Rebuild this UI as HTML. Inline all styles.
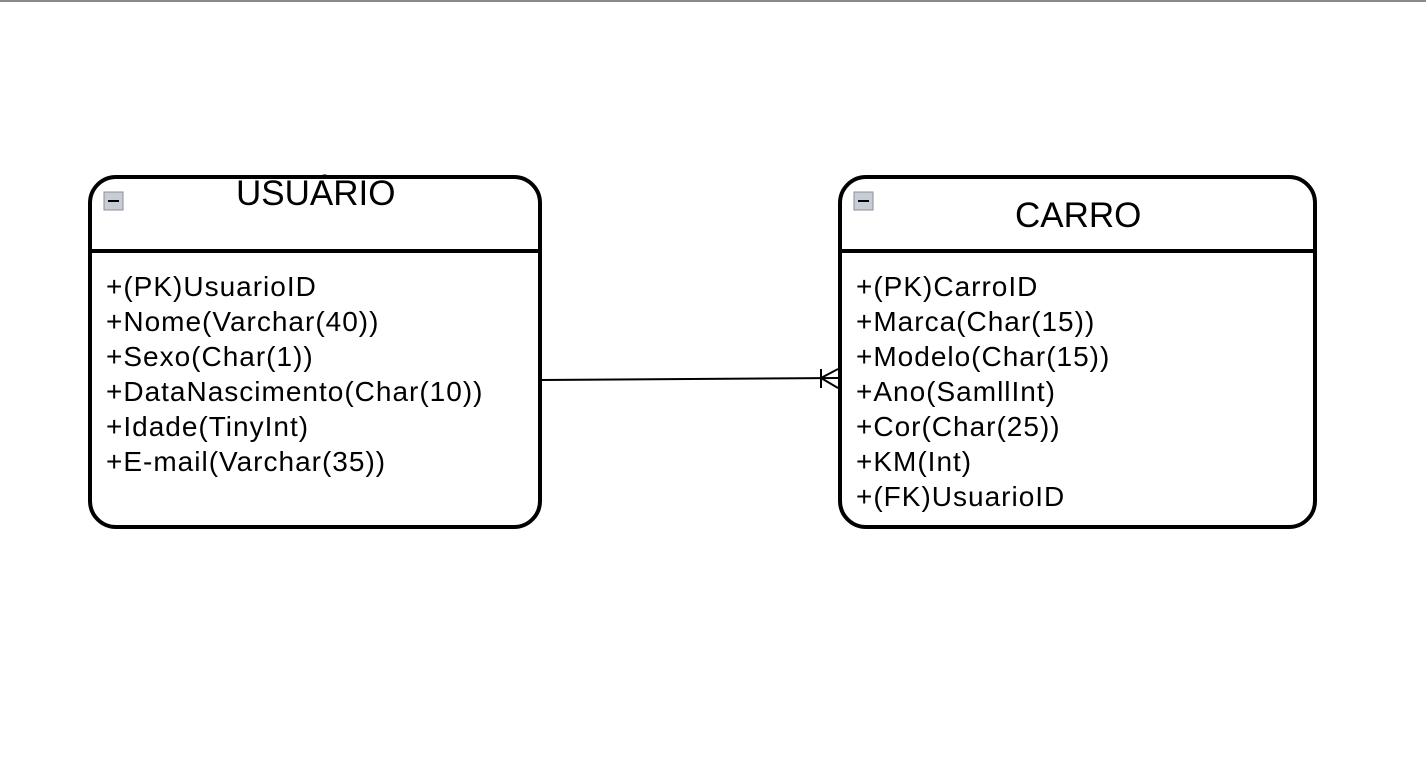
<!DOCTYPE html>
<html><head><meta charset="utf-8"><style>
html,body{margin:0;padding:0;background:#fff;}
body{width:1426px;height:768px;position:relative;overflow:hidden;font-family:"Liberation Sans",Arial,sans-serif;}
.t{position:absolute;font-size:28px;letter-spacing:1px;color:#000;white-space:nowrap;}
.h{position:absolute;font-size:35px;color:#000;white-space:nowrap;}
</style></head><body>
<div style="position:absolute;left:0;top:0;width:1426px;height:2px;background:#8a8a8a"></div>
<svg width="1426" height="768" style="position:absolute;left:0;top:0">
<rect x="90" y="177" width="450" height="350" rx="26" fill="none" stroke="#000" stroke-width="4"/>
<line x1="90" y1="251" x2="540" y2="251" stroke="#000" stroke-width="4"/>
<rect x="840" y="177" width="475" height="350" rx="26" fill="none" stroke="#000" stroke-width="4"/>
<line x1="840" y1="251" x2="1315" y2="251" stroke="#000" stroke-width="4"/>
<g>
<rect x="104" y="192" width="19" height="18" fill="#c8ccd4" stroke="#8a8f99"/>
<line x1="108" y1="201" x2="119" y2="201" stroke="#000" stroke-width="2"/>
<rect x="854" y="192" width="19" height="18" fill="#c8ccd4" stroke="#8a8f99"/>
<line x1="858" y1="201" x2="869" y2="201" stroke="#000" stroke-width="2"/>
</g>
<line x1="542" y1="380" x2="838" y2="378" stroke="#000" stroke-width="2"/>
<line x1="821" y1="369" x2="821" y2="388" stroke="#000" stroke-width="2"/>
<line x1="821" y1="378" x2="838" y2="369" stroke="#000" stroke-width="2"/>
<line x1="821" y1="378" x2="838" y2="388" stroke="#000" stroke-width="2"/>
</svg>
<div class="h" style="left:236px;top:174px">USUÁRIO</div>
<div class="h" style="left:1015px;top:196px">CARRO</div>
<div class="t" style="left:106px;top:269px;line-height:35px">+(PK)UsuarioID<br>+Nome(Varchar(40))<br>+Sexo(Char(1))<br>+DataNascimento(Char(10))<br>+Idade(TinyInt)<br>+E-mail(Varchar(35))</div>
<div class="t" style="left:856px;top:269px;line-height:35px">+(PK)CarroID<br>+Marca(Char(15))<br>+Modelo(Char(15))<br>+Ano(SamllInt)<br>+Cor(Char(25))<br>+KM(Int)<br>+(FK)UsuarioID</div>
</body></html>
